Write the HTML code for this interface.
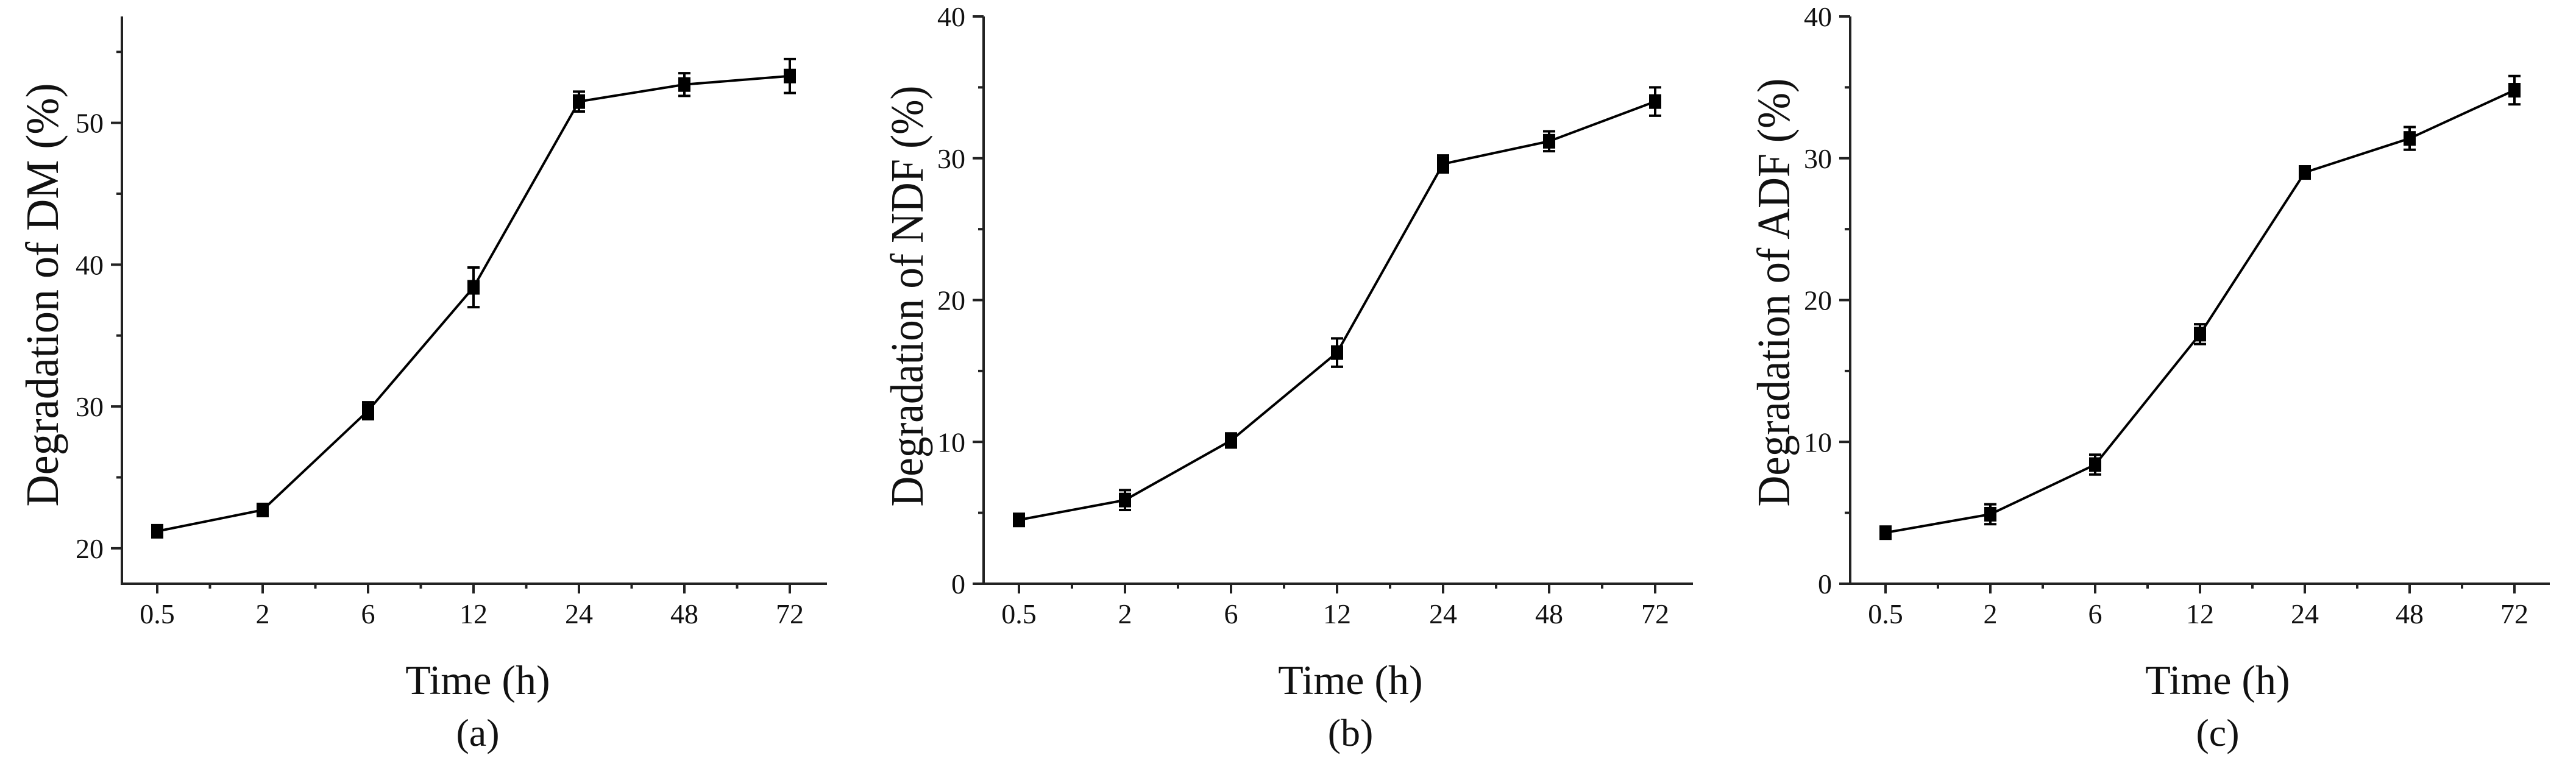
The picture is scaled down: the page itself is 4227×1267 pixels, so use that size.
<!DOCTYPE html>
<html><head><meta charset="utf-8"><style>
html,body{margin:0;padding:0;background:#fff;}
svg{display:block;}
text{font-family:"Liberation Serif",serif;fill:#111;}
</style></head>
<body>
<svg id="fig" width="4227" height="1267" viewBox="0 0 4227 1267" xmlns="http://www.w3.org/2000/svg"></svg>
<script>
const categories = ["0.5","2","6","12","24","48","72"];
const dmValues = [21.2, 22.7, 29.7, 38.4, 51.5, 52.7, 53.3];
const dmErrors = [0.4, 0.4, 0.6, 1.4, 0.7, 0.8, 1.2];
const ndfValues = [4.5, 5.9, 10.1, 16.3, 29.6, 31.2, 34.0];
const ndfErrors = [0.3, 0.7, 0.5, 1.0, 0.6, 0.7, 1.0];
const adfValues = [3.6, 4.9, 8.4, 17.6, 29.0, 31.4, 34.8];
const adfErrors = [0.4, 0.7, 0.7, 0.7, 0.4, 0.8, 1.0];
const dmTicks = [20, 30, 40, 50];
const fiberTicks = [0, 10, 20, 30, 40];

const NS = "http://www.w3.org/2000/svg";
const svg = document.getElementById("fig");
function mk(tag, attrs, parent, txt){
  const e = document.createElementNS(NS, tag);
  for (const k in attrs) e.setAttribute(k, attrs[k]);
  if (txt !== undefined) e.textContent = txt;
  (parent || svg).appendChild(e);
  return e;
}

function panel(cfg){
  const g = mk("g", {});
  
  
  const top = 27, bot = 958;
  const yScale = v => bot - (v - cfg.yMin) / (cfg.yMax - cfg.yMin) * (bot - top);
  const xScale = i => cfg.axisX + 58 + i * cfg.step;
  // axes
  const ya = mk("line", {x1: cfg.axisX, y1: top, x2: cfg.axisX, y2: bot + 2, stroke: "#222", "stroke-width": 4}, g);
  
  
  const xa = mk("line", {x1: cfg.axisX - 2, y1: bot, x2: cfg.axisRight, y2: bot, stroke: "#222", "stroke-width": 4}, g);
  
  
  // y ticks
  cfg.ticks.forEach((t, k) => {
    const y = yScale(t);
    mk("line", {x1: cfg.axisX - 18, y1: y, x2: cfg.axisX, y2: y, stroke: "#222", "stroke-width": 4}, g);
    const lbl = mk("text", {x: cfg.axisX - 30, y: y + 16, "font-size": 46, "text-anchor": "end"}, g, String(t));
    
    
    if (k < cfg.ticks.length - 1 || cfg.minorAbove) {
      const ym = yScale(t + 5);
      if (ym >= top - 1) mk("line", {x1: cfg.axisX - 9, y1: ym, x2: cfg.axisX, y2: ym, stroke: "#222", "stroke-width": 4}, g);
    }
  });
  // x ticks
  categories.forEach((c, i) => {
    const x = xScale(i);
    mk("line", {x1: x, y1: bot, x2: x, y2: bot + 16, stroke: "#222", "stroke-width": 4}, g);
    if (i < categories.length - 1) {
      const xm = x + cfg.step / 2;
      mk("line", {x1: xm, y1: bot, x2: xm, y2: bot + 8, stroke: "#222", "stroke-width": 4}, g);
    }
    const lbl = mk("text", {x: x, y: 1023, "font-size": 46, "text-anchor": "middle"}, g, c);
    
    
  });
  // line
  const pts = cfg.values.map((v, i) => xScale(i) + "," + yScale(v)).join(" ");
  const pl = mk("polyline", {points: pts, fill: "none", stroke: "#000", "stroke-width": 4}, g);
  
  
  cfg.values.forEach((v, i) => {
    const x = xScale(i), y = yScale(v);
    const e = cfg.errors[i];
    const y1 = yScale(v + e), y2 = yScale(v - e);
    const eb = mk("path", {d: `M${x},${y1}V${y2}M${x-10},${y1}H${x+10}M${x-10},${y2}H${x+10}`, stroke: "#000", "stroke-width": 4, fill: "none"}, g);
    
    
    const m = mk("rect", {x: x - 10, y: y - 12, width: 20, height: 24, fill: "#000"}, g);
    
    
  });
  // titles
  const yt = mk("text", {x: 0, y: 0, "font-size": 76, "text-anchor": "middle",
    transform: `translate(${cfg.titleX},${cfg.titleY}) rotate(-90)`, textLength: cfg.titleLen, lengthAdjust: "spacingAndGlyphs"}, g, cfg.yTitle);
  
  
  const xt = mk("text", {x: cfg.labelX, y: 1139, "font-size": 68, "text-anchor": "middle"}, g, "Time (h)");
  
  
  const pt = mk("text", {x: cfg.labelX, y: 1224, "font-size": 64, "text-anchor": "middle"}, g, cfg.tag);
  
  
}

panel({name: "panel-a-dm", axisX: 200, axisRight: 1357, step: 173, yMin: 17.5, yMax: 57.5,
  ticks: dmTicks, minorAbove: true, values: dmValues, errors: dmErrors,
  yTitle: "Degradation of  DM (%)", titleX: 95, titleY: 484, titleLen: 695, labelX: 784, tag: "(a)"});
panel({name: "panel-b-ndf", axisX: 1614, axisRight: 2778, step: 174, yMin: 0, yMax: 40,
  ticks: fiberTicks, minorAbove: false, values: ndfValues, errors: ndfErrors,
  yTitle: "Degradation of NDF (%)", titleX: 1514, titleY: 486, titleLen: 691, labelX: 2216, tag: "(b)"});
panel({name: "panel-c-adf", axisX: 3036, axisRight: 4184, step: 172, yMin: 0, yMax: 40,
  ticks: fiberTicks, minorAbove: false, values: adfValues, errors: adfErrors,
  yTitle: "Degradation of ADF (%)", titleX: 2936, titleY: 480, titleLen: 703, labelX: 3639, tag: "(c)"});
</script>
</body></html>
